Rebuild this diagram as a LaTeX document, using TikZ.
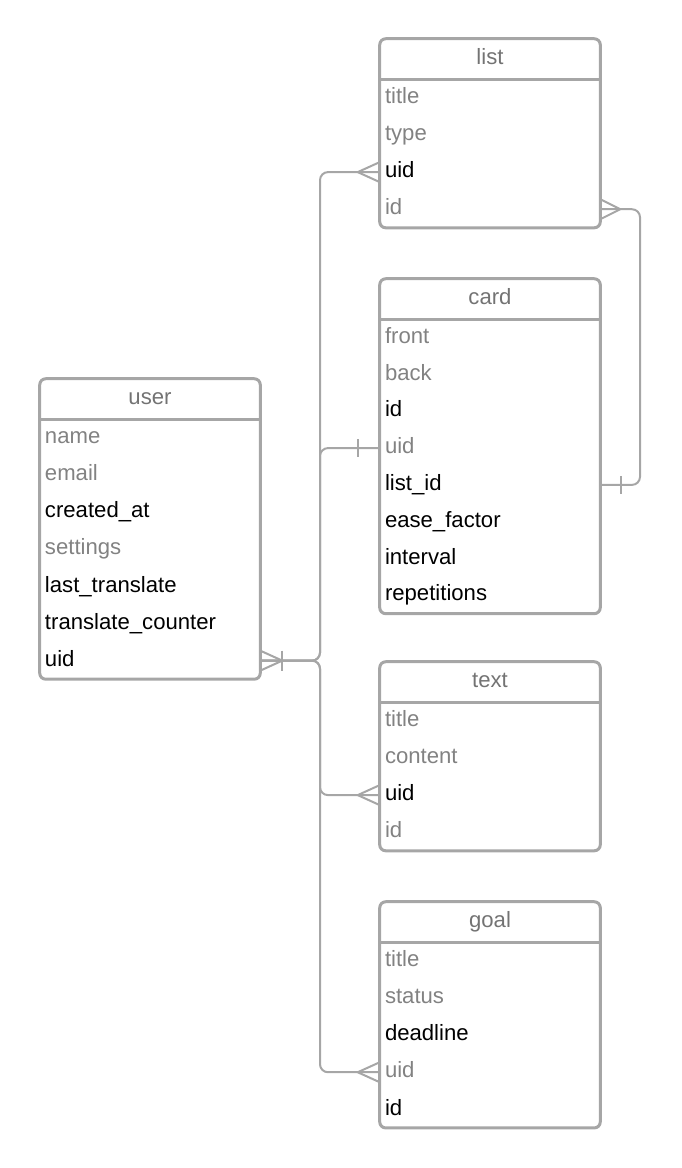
\documentclass[tikz,border=0pt]{standalone}
\usepackage{fontspec}
\setmainfont{Liberation Sans}
\usetikzlibrary{positioning, calc}

\definecolor{boxgray}{RGB}{166,166,166}
\definecolor{hdgray}{RGB}{115,115,115}
\definecolor{fldgray}{RGB}{130,130,130}

\begin{document}
\begin{tikzpicture}[x=0.75pt,y=-0.75pt,
  font=\fontsize{16.6}{19}\selectfont,
  hd/.style={minimum width=165pt, minimum height=30pt, inner sep=0pt,
    text height=12pt, text depth=3.5pt, text=hdgray},
  fld/.style={text width=157.5pt, inner xsep=3.75pt, inner ysep=0pt,
    minimum height=27.45pt, text height=12pt, text depth=3.5pt,
    align=left, text=fldgray},
  fldb/.style={fld, text=black},
  tbl/.style={boxgray, line width=2.25pt, rounded corners=4.5pt},
  rel/.style={boxgray, line width=1.5pt, rounded corners=6pt},
  crow/.style={boxgray, line width=1.5pt}]

  \useasboundingbox (0,0) rectangle (682,1168);

  % user
  \node[hd] (user) at (150,399) {user};
  \node[fld,  below=0pt of user]     (user-name)     {name};
  \node[fld,  below=0pt of user-name]  (user-email)    {email};
  \node[fldb, below=0pt of user-email] (user-created)  {created\_at};
  \node[fld,  below=0pt of user-created] (user-settings) {settings};
  \node[fldb, below=0pt of user-settings] (user-last)   {last\_translate};
  \node[fldb, below=0pt of user-last]  (user-counter)  {translate\_counter};
  \node[fldb, below=0pt of user-counter] (user-uid)    {uid};
  \draw[tbl] (user.north west) rectangle (user-uid.south east);
  \draw[tbl] (user.south west) -- (user.south east);

  % list
  \node[hd] (list) at (490,59) {list};
  \node[fld,  below=0pt of list]       (list-title) {title};
  \node[fld,  below=0pt of list-title] (list-type)  {type};
  \node[fldb, below=0pt of list-type]  (list-uid)   {uid};
  \node[fld,  below=0pt of list-uid]   (list-id)    {id};
  \draw[tbl] (list.north west) rectangle (list-id.south east);
  \draw[tbl] (list.south west) -- (list.south east);

  % card
  \begin{scope}[fld/.append style={minimum height=27.2pt}]
  \node[hd] (card) at (490,299) {card};
  \node[fld,  below=0pt of card]        (card-front)  {front};
  \node[fld,  below=0pt of card-front]  (card-back)   {back};
  \node[fldb, below=0pt of card-back]   (card-id)     {id};
  \node[fld,  below=0pt of card-id]     (card-uid)    {uid};
  \node[fldb, below=0pt of card-uid]    (card-listid) {list\_id};
  \node[fldb, below=0pt of card-listid] (card-ease)   {ease\_factor};
  \node[fldb, below=0pt of card-ease]   (card-interval) {interval};
  \node[fldb, below=0pt of card-interval] (card-reps) {repetitions};
  \end{scope}
  \draw[tbl] (card.north west) rectangle (card-reps.south east);
  \draw[tbl] (card.south west) -- (card.south east);

  % text
  \node[hd] (text) at (490,682) {text};
  \node[fld,  below=0pt of text]         (text-title)   {title};
  \node[fld,  below=0pt of text-title]   (text-content) {content};
  \node[fldb, below=0pt of text-content] (text-uid)     {uid};
  \node[fld,  below=0pt of text-uid]     (text-id)      {id};
  \draw[tbl] (text.north west) rectangle (text-id.south east);
  \draw[tbl] (text.south west) -- (text.south east);

  % goal
  \node[hd] (goal) at (490,922) {goal};
  \node[fld,  below=0pt of goal]          (goal-title)    {title};
  \node[fld,  below=0pt of goal-title]    (goal-status)   {status};
  \node[fldb, below=0pt of goal-status]   (goal-deadline) {deadline};
  \node[fld,  below=0pt of goal-deadline] (goal-uid)      {uid};
  \node[fldb, below=0pt of goal-uid]      (goal-id)       {id};
  \draw[tbl] (goal.north west) rectangle (goal-id.south east);
  \draw[tbl] (goal.south west) -- (goal.south east);

  % relations
  \coordinate (lbus) at (320,0);
  \coordinate (rbus) at (640,0);
  \draw[rel] (user-uid.east) -| (lbus |- list-uid.west) -- (list-uid.west);
  \draw[rel] (user-uid.east) -| (lbus |- card-uid.west) -- (card-uid.west);
  \draw[rel] (user-uid.east) -| (lbus |- text-uid.west) -- (text-uid.west);
  \draw[rel] (user-uid.east) -| (lbus |- goal-uid.west) -- (goal-uid.west);
  \draw[rel] (list-id.east) -| (rbus |- card-listid.east) -- (card-listid.east);

  % ends
  \draw[crow] ($(user-uid.east)+(0,-10)$) -- ($(user-uid.east)+(22,0)$) -- ($(user-uid.east)+(0,10)$);
  \draw[crow] ($(user-uid.east)+(22,-10)$) -- ($(user-uid.east)+(22,10)$);
  \draw[crow] ($(list-uid.west)+(0,-10)$) -- ($(list-uid.west)+(-22,0)$) -- ($(list-uid.west)+(0,10)$);
  \draw[crow] ($(card-uid.west)+(-22,-9)$) -- ($(card-uid.west)+(-22,9)$);
  \draw[crow] ($(text-uid.west)+(0,-10)$) -- ($(text-uid.west)+(-22,0)$) -- ($(text-uid.west)+(0,10)$);
  \draw[crow] ($(goal-uid.west)+(0,-10)$) -- ($(goal-uid.west)+(-22,0)$) -- ($(goal-uid.west)+(0,10)$);
  \draw[crow] ($(list-id.east)+(0,-10)$) -- ($(list-id.east)+(20,0)$) -- ($(list-id.east)+(0,10)$);
  \draw[crow] ($(card-listid.east)+(21,-9)$) -- ($(card-listid.east)+(21,9)$);
\end{tikzpicture}
\end{document}
